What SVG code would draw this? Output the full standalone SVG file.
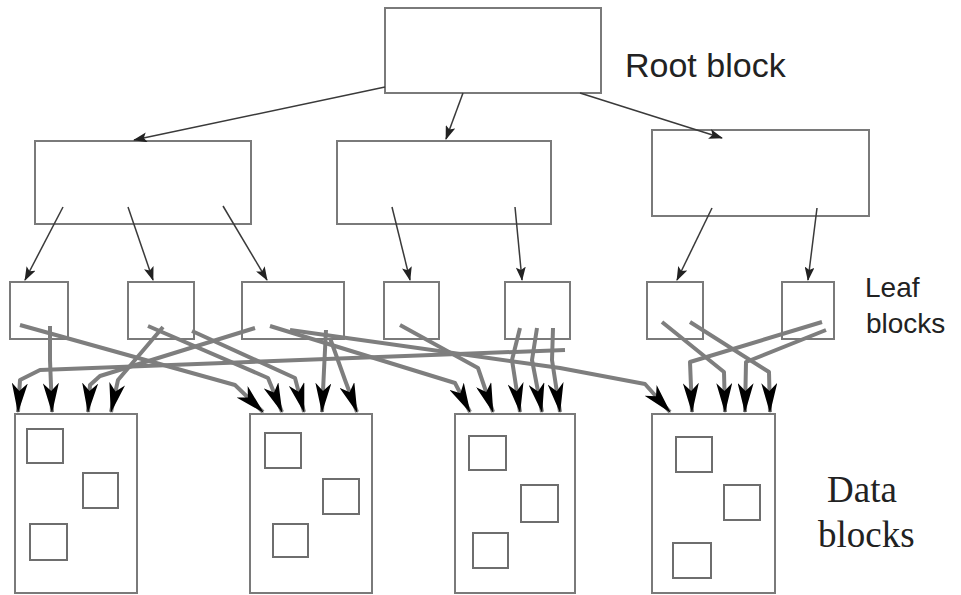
<svg xmlns="http://www.w3.org/2000/svg" width="961" height="595" viewBox="0 0 961 595">
<style>
.box{fill:#fff;stroke:#7a7a7a;stroke-width:2}
.sq{fill:none;stroke:#6e6e6e;stroke-width:2}
.tl{fill:none;stroke:#3a3a3a;stroke-width:1.5;marker-end:url(#sa)}
.gl{fill:none;stroke:#7e7e7e;stroke-width:4;stroke-linejoin:round;marker-end:url(#ba)}
.lbl{font-family:"Liberation Sans",Arial,sans-serif;fill:#222}
.slbl{font-family:"Liberation Serif","Times New Roman",serif;fill:#222}
</style>
<defs>
<marker id="sa" viewBox="0 0 14 10" refX="13" refY="5" markerWidth="14" markerHeight="10" markerUnits="userSpaceOnUse" orient="auto">
<path d="M0,0 L14,5 L0,10 L3,5 z" fill="#222"/>
</marker>
<marker id="ba" viewBox="0 0 30 16" refX="29" refY="8" markerWidth="30" markerHeight="16" markerUnits="userSpaceOnUse" orient="auto">
<path d="M0,0 L30,8 L0,16 L8,8 z" fill="#000"/>
</marker>
</defs>
<g id="root"><rect class="box" x="385" y="8" width="216" height="85"/></g>
<g id="idx1"><rect class="box" x="35" y="141" width="216" height="83"/></g>
<g id="idx2"><rect class="box" x="337" y="141" width="214" height="83"/></g>
<g id="idx3"><rect class="box" x="652" y="130" width="217" height="86"/></g>
<g id="leaf1"><rect class="box" x="10" y="282" width="58" height="57"/></g>
<g id="leaf2"><rect class="box" x="128" y="282" width="66" height="57"/></g>
<g id="leaf3"><rect class="box" x="242" y="282" width="102" height="57"/></g>
<g id="leaf4"><rect class="box" x="384" y="282" width="55" height="57"/></g>
<g id="leaf5"><rect class="box" x="505" y="282" width="65" height="57"/></g>
<g id="leaf6"><rect class="box" x="647" y="282" width="56" height="57"/></g>
<g id="leaf7"><rect class="box" x="782" y="282" width="52" height="57"/></g>
<g id="data1"><rect class="box" x="15" y="414" width="122" height="179"/>
<rect class="sq" x="27" y="429" width="36" height="34"/><rect class="sq" x="83" y="473" width="35" height="35"/><rect class="sq" x="30" y="524" width="37" height="36"/></g>
<g id="data2"><rect class="box" x="250" y="414" width="122" height="179"/>
<rect class="sq" x="265" y="433" width="36" height="35"/><rect class="sq" x="323" y="479" width="36" height="35"/><rect class="sq" x="273" y="524" width="35" height="33"/></g>
<g id="data3"><rect class="box" x="455" y="414" width="120" height="179"/>
<rect class="sq" x="469" y="436" width="37" height="34"/><rect class="sq" x="521" y="485" width="37" height="37"/><rect class="sq" x="473" y="533" width="35" height="35"/></g>
<g id="data4"><rect class="box" x="652" y="414" width="123" height="179"/>
<rect class="sq" x="676" y="437" width="36" height="35"/><rect class="sq" x="724" y="485" width="36" height="35"/><rect class="sq" x="673" y="543" width="38" height="35"/></g>
<g id="connectors">
<line class="tl" x1="385" y1="87" x2="134" y2="140"/>
<line class="tl" x1="463" y1="93" x2="446" y2="139"/>
<line class="tl" x1="580" y1="93" x2="722" y2="138"/>
<line class="tl" x1="63" y1="207" x2="25" y2="280"/>
<line class="tl" x1="128" y1="207" x2="153" y2="280"/>
<line class="tl" x1="223" y1="206" x2="267" y2="280"/>
<line class="tl" x1="392" y1="207" x2="410" y2="280"/>
<line class="tl" x1="515" y1="207" x2="522" y2="280"/>
<line class="tl" x1="712" y1="208" x2="677" y2="280"/>
<line class="tl" x1="817" y1="208" x2="808" y2="280"/>
<polyline class="gl" points="565,350 40,370 20,380 18,412"/>
<polyline class="gl" points="50,326 50,360 52,412"/>
<polyline class="gl" points="255,328 100,376 90,385 88,412"/>
<polyline class="gl" points="163,327 118,380 111,412"/>
<polyline class="gl" points="20,325 235,385 263,412"/>
<polyline class="gl" points="148,326 268,378 282,412"/>
<polyline class="gl" points="192,331 295,378 304,412"/>
<polyline class="gl" points="326,330 324,370 322,412"/>
<polyline class="gl" points="330,338 345,380 357,412"/>
<polyline class="gl" points="270,326 455,383 470,412"/>
<polyline class="gl" points="400,325 478,368 493,412"/>
<polyline class="gl" points="520,328 512,360 520,412"/>
<polyline class="gl" points="537,328 532,360 542,412"/>
<polyline class="gl" points="553,328 552,360 560,412"/>
<polyline class="gl" points="290,330 560,368 645,384 670,412"/>
<polyline class="gl" points="662,322 724,372 725,412"/>
<polyline class="gl" points="690,322 769,372 770,412"/>
<polyline class="gl" points="822,322 690,362 692,412"/>
<polyline class="gl" points="826,330 746,362 745,412"/>
</g>
<text class="lbl" x="625" y="77" font-size="34">Root block</text>
<text class="lbl" x="865" y="297" font-size="28">Leaf</text>
<text class="lbl" x="866" y="333" font-size="28">blocks</text>
<text class="slbl" x="827" y="502" font-size="37">Data</text>
<text class="slbl" x="818" y="547" font-size="37">blocks</text>
</svg>
